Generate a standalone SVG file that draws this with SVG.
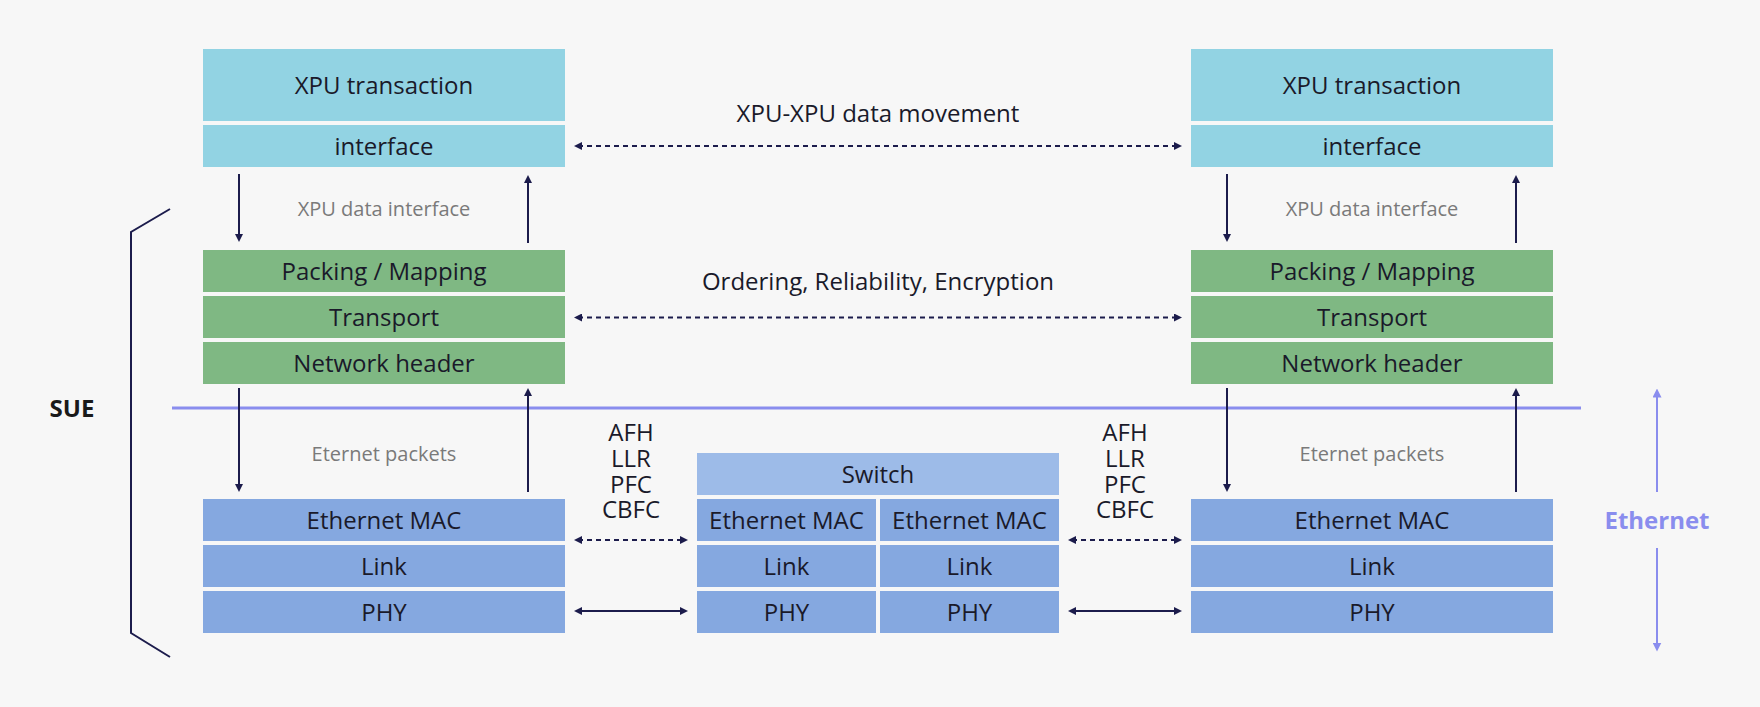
<svg xmlns="http://www.w3.org/2000/svg" width="1760" height="707" viewBox="0 0 1760 707">
<defs>
<style>
.bg{fill:#f7f7f7}
.cy{fill:#92d3e3}
.gr{fill:#7fb883}
.bl{fill:#85a8e0}
.sw{fill:#9dbbe8}
.t{font-family:"Open Sans","Noto Sans","Liberation Sans",sans-serif;font-size:24px;fill:#1a1a2a;text-anchor:middle}
.g{font-family:"Open Sans","Noto Sans","Liberation Sans",sans-serif;font-size:20px;fill:#7a7a7a;text-anchor:middle}
.b{font-family:"Open Sans","Noto Sans","Liberation Sans",sans-serif;font-size:24px;font-weight:bold;text-anchor:middle}
.c{stroke:#1c1c4c;stroke-width:2;fill:none}
.d{stroke-dasharray:5 4}
.p{stroke:#8a8dee;stroke-width:2;fill:none}
</style>
<marker id="ah" viewBox="0 0 8 8" refX="4" refY="4" markerWidth="8" markerHeight="8" markerUnits="userSpaceOnUse" orient="auto-start-reverse">
<path d="M0,0 L8,4 L0,8 z" fill="#1c1c4c"/>
</marker>
<marker id="ap" viewBox="0 0 8 8" refX="4" refY="4" markerWidth="9" markerHeight="9" markerUnits="userSpaceOnUse" orient="auto-start-reverse">
<path d="M0,0 L8,4 L0,8 z" fill="#8a8dee"/>
</marker>
</defs>
<rect class="bg" x="0" y="0" width="1760" height="707"/>

<g id="left-stack">
<g id="l-xpu"><rect class="cy" x="203" y="49" width="362" height="72"/><text class="t" x="384" y="94">XPU transaction</text></g>
<g id="l-if"><rect class="cy" x="203" y="125" width="362" height="42"/><text class="t" x="384" y="155">interface</text></g>
<g id="l-pack"><rect class="gr" x="203" y="250" width="362" height="42"/><text class="t" x="384" y="280">Packing / Mapping</text></g>
<g id="l-trans"><rect class="gr" x="203" y="296" width="362" height="42"/><text class="t" x="384" y="326">Transport</text></g>
<g id="l-net"><rect class="gr" x="203" y="342" width="362" height="42"/><text class="t" x="384" y="372">Network header</text></g>
<g id="l-mac"><rect class="bl" x="203" y="499" width="362" height="42"/><text class="t" x="384" y="529">Ethernet MAC</text></g>
<g id="l-link"><rect class="bl" x="203" y="545" width="362" height="42"/><text class="t" x="384" y="575">Link</text></g>
<g id="l-phy"><rect class="bl" x="203" y="591" width="362" height="42"/><text class="t" x="384" y="621">PHY</text></g>
</g>

<g id="switch">
<g id="s-sw"><rect class="sw" x="697" y="453" width="362" height="42"/><text class="t" x="878" y="483">Switch</text></g>
<g id="s-mac1"><rect class="bl" x="697" y="499" width="179" height="42"/><text class="t" x="786.5" y="529">Ethernet MAC</text></g>
<g id="s-mac2"><rect class="bl" x="880" y="499" width="179" height="42"/><text class="t" x="969.5" y="529">Ethernet MAC</text></g>
<g id="s-link1"><rect class="bl" x="697" y="545" width="179" height="42"/><text class="t" x="786.5" y="575">Link</text></g>
<g id="s-link2"><rect class="bl" x="880" y="545" width="179" height="42"/><text class="t" x="969.5" y="575">Link</text></g>
<g id="s-phy1"><rect class="bl" x="697" y="591" width="179" height="42"/><text class="t" x="786.5" y="621">PHY</text></g>
<g id="s-phy2"><rect class="bl" x="880" y="591" width="179" height="42"/><text class="t" x="969.5" y="621">PHY</text></g>
</g>

<g id="right-stack">
<g id="r-xpu"><rect class="cy" x="1191" y="49" width="362" height="72"/><text class="t" x="1372" y="94">XPU transaction</text></g>
<g id="r-if"><rect class="cy" x="1191" y="125" width="362" height="42"/><text class="t" x="1372" y="155">interface</text></g>
<g id="r-pack"><rect class="gr" x="1191" y="250" width="362" height="42"/><text class="t" x="1372" y="280">Packing / Mapping</text></g>
<g id="r-trans"><rect class="gr" x="1191" y="296" width="362" height="42"/><text class="t" x="1372" y="326">Transport</text></g>
<g id="r-net"><rect class="gr" x="1191" y="342" width="362" height="42"/><text class="t" x="1372" y="372">Network header</text></g>
<g id="r-mac"><rect class="bl" x="1191" y="499" width="362" height="42"/><text class="t" x="1372" y="529">Ethernet MAC</text></g>
<g id="r-link"><rect class="bl" x="1191" y="545" width="362" height="42"/><text class="t" x="1372" y="575">Link</text></g>
<g id="r-phy"><rect class="bl" x="1191" y="591" width="362" height="42"/><text class="t" x="1372" y="621">PHY</text></g>
</g>

<g id="labels">
<text class="t" x="878" y="122">XPU-XPU data movement</text>
<text class="t" x="878" y="290">Ordering, Reliability, Encryption</text>
<text class="g" x="384" y="216">XPU data interface</text>
<text class="g" x="1372" y="216">XPU data interface</text>
<text class="g" x="384" y="461">Eternet packets</text>
<text class="g" x="1372" y="461">Eternet packets</text>
<text class="t" x="631" y="441"><tspan x="631">AFH</tspan><tspan x="631" dy="25.8">LLR</tspan><tspan x="631" dy="25.8">PFC</tspan><tspan x="631" dy="25.8">CBFC</tspan></text>
<text class="t" x="1125" y="441"><tspan x="1125">AFH</tspan><tspan x="1125" dy="25.8">LLR</tspan><tspan x="1125" dy="25.8">PFC</tspan><tspan x="1125" dy="25.8">CBFC</tspan></text>
<text class="b" x="72" y="417" fill="#1a1a1a" font-size="25">SUE</text>
<text class="b" x="1657" y="529" fill="#8a8dee">Ethernet</text>
</g>

<g id="connectors">
<polyline class="c" points="170,209 131,232 131,633 170,657" stroke-width="2.5"/>
<line x1="172" y1="408" x2="1581" y2="408" stroke="#8a8dee" stroke-width="3"/>
<line class="p" x1="1657" y1="393" x2="1657" y2="492" marker-start="url(#ap)"/>
<line class="p" x1="1657" y1="548" x2="1657" y2="647" marker-end="url(#ap)"/>

<line class="c" x1="239" y1="174" x2="239" y2="238" marker-end="url(#ah)"/>
<line class="c" x1="528" y1="179" x2="528" y2="243" marker-start="url(#ah)"/>
<line class="c" x1="239" y1="388" x2="239" y2="488" marker-end="url(#ah)"/>
<line class="c" x1="528" y1="392" x2="528" y2="492" marker-start="url(#ah)"/>
<line class="c" x1="1227" y1="174" x2="1227" y2="238" marker-end="url(#ah)"/>
<line class="c" x1="1516" y1="179" x2="1516" y2="243" marker-start="url(#ah)"/>
<line class="c" x1="1227" y1="388" x2="1227" y2="488" marker-end="url(#ah)"/>
<line class="c" x1="1516" y1="392" x2="1516" y2="492" marker-start="url(#ah)"/>

<line class="c d" x1="578" y1="146" x2="1178" y2="146" marker-start="url(#ah)" marker-end="url(#ah)"/>
<line class="c d" x1="578" y1="317.5" x2="1178" y2="317.5" marker-start="url(#ah)" marker-end="url(#ah)"/>
<line class="c d" x1="578" y1="540" x2="684" y2="540" marker-start="url(#ah)" marker-end="url(#ah)"/>
<line class="c d" x1="1072" y1="540" x2="1178" y2="540" marker-start="url(#ah)" marker-end="url(#ah)"/>
<line class="c" x1="578" y1="611" x2="684" y2="611" marker-start="url(#ah)" marker-end="url(#ah)"/>
<line class="c" x1="1072" y1="611" x2="1178" y2="611" marker-start="url(#ah)" marker-end="url(#ah)"/>
</g>
</svg>
